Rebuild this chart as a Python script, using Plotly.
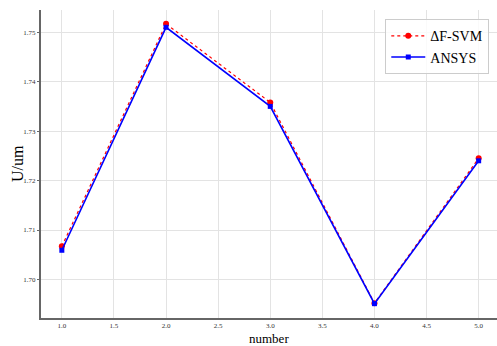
import plotly.graph_objects as go

numbers = [1, 2, 3, 4, 5]
af_svm = [1.7067, 1.7517, 1.7358, 1.6952, 1.7245]
ansys = [1.7059, 1.7510, 1.7350, 1.6951, 1.7240]
x_ticks = [1.0, 1.5, 2.0, 2.5, 3.0, 3.5, 4.0, 4.5, 5.0]
y_ticks = [1.70, 1.71, 1.72, 1.73, 1.74, 1.75]

fig = go.Figure()
fig.add_trace(go.Scatter(
    x=numbers, y=af_svm, name="ΔF-SVM", mode="lines+markers",
    line=dict(color="red", width=1.2, dash="dot"),
    marker=dict(color="red", size=6, symbol="circle"),
))
fig.add_trace(go.Scatter(
    x=numbers, y=ansys, name="ANSYS", mode="lines+markers",
    line=dict(color="blue", width=1.6),
    marker=dict(color="blue", size=5, symbol="square"),
))

axis_common = dict(
    showgrid=True, gridcolor="#e3e3e3", gridwidth=1,
    showline=True, linecolor="#666666", linewidth=2, mirror=False,
    tickcolor="#666666",
    tickfont=dict(family="Liberation Serif", size=7, color="#333333"),
    zeroline=False,
)

fig.add_annotation(
    text="number", xref="paper", yref="paper", x=0.50, y=0,
    xanchor="center", yanchor="top", yshift=-12, showarrow=False, borderpad=0,
    font=dict(family="Liberation Serif", size=13, color="black"),
)
fig.add_annotation(
    text="U/um", xref="paper", yref="paper", x=-0.0526, y=0.5,
    xanchor="center", yanchor="middle", textangle=-90, showarrow=False,
    font=dict(family="Liberation Serif", size=16, color="black"),
)

fig.update_layout(
    width=497, height=346,
    margin=dict(l=41, r=0, t=10, b=28),
    paper_bgcolor="white", plot_bgcolor="white",
    xaxis=dict(range=[0.8, 5.176], tickvals=x_ticks,
               ticktext=[f"{v:.1f}" for v in x_ticks],
               ticks="", **axis_common),
    yaxis=dict(range=[1.6922, 1.7545], tickvals=y_ticks,
               ticktext=[f"{v:.2f}" for v in y_ticks],
               ticks="outside", ticklen=2, **axis_common),
    legend=dict(x=0.755, y=0.97, xanchor="left", yanchor="top",
                bgcolor="rgba(255,255,255,0.8)", bordercolor="#cccccc", borderwidth=1,
                font=dict(family="Liberation Serif", size=14, color="black"),
                itemwidth=34),
    showlegend=True,
)

fig.write_html(
    "out.html",
    config={"displayModeBar": False},
    post_script="document.body.style.margin='0';document.body.style.overflow='hidden';",
)
